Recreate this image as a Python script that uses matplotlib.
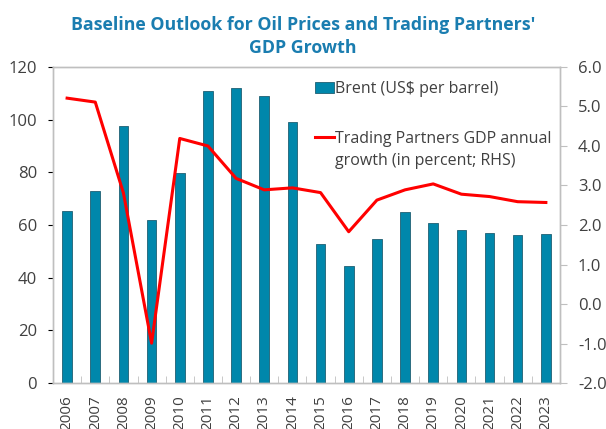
import matplotlib
matplotlib.use("Agg")
import matplotlib.pyplot as plt
import numpy as np

plt.rcParams['font.family'] = ['Open Sans', 'DejaVu Sans']

years = [str(y) for y in range(2006, 2024)]
brent = [65.4, 72.9, 97.7, 62.0, 79.7, 111.0, 111.9, 108.9, 99.0,
         52.7, 44.3, 54.6, 64.8, 60.9, 58.1, 56.8, 56.2, 56.6]
gdp_growth = [5.21, 5.11, 2.81, -0.99, 4.19, 4.0, 3.18, 2.89, 2.94,
              2.82, 1.83, 2.63, 2.89, 3.04, 2.78, 2.72, 2.59, 2.57]

bar_color = '#0087AB'
title_color = '#1A7DB0'
text_color = '#404040'
frame_color = '#BFBFBF'

fig = plt.figure(figsize=(6.06, 4.29), dpi=100)
ax = fig.add_axes([0.0875, 0.107, 0.8365, 0.737])
x = np.arange(len(years))

bars = ax.bar(x, brent, width=0.34, color=bar_color, edgecolor='#1F5F73',
              linewidth=0.6, label='Brent (US$ per barrel)', zorder=2)
ax.set_xlim(-0.5, len(years) - 0.5)
ax.set_ylim(0, 120)
ax.set_yticks(range(0, 121, 20))
ax.tick_params(axis='y', left=False, labelsize=12, labelcolor=text_color, pad=8)
ax.set_xticks(x)
ax.set_xticklabels(years, rotation=90, fontsize=11, color=text_color)
ax.tick_params(axis='x', bottom=False, pad=5)
ax.set_xticks(np.arange(0.5, len(years) - 0.5), minor=True)
ax.tick_params(axis='x', which='minor', direction='in', length=5,
               color=frame_color, bottom=True)
for s in ax.spines.values():
    s.set_color(frame_color)
    s.set_linewidth(1)

ax2 = ax.twinx()
line, = ax2.plot(x, gdp_growth, color='#FF0000', linewidth=2.2,
                 label='Trading Partners GDP annual', zorder=3)
ax2.set_ylim(-2, 6)
ax2.set_yticks(np.arange(-2, 6.1, 1))
ax2.set_yticklabels([f'{v:.1f}' for v in np.arange(-2, 6.1, 1)])
ax2.tick_params(axis='y', direction='out', length=5, color=frame_color,
                labelsize=12, labelcolor=text_color, pad=8)
for s in ax2.spines.values():
    s.set_color(frame_color)
    s.set_linewidth(1)

leg = ax2.legend([bars, line], [bars.get_label(), line.get_label()],
                 loc='upper left', bbox_to_anchor=(0.505, 0.975), frameon=False,
                 fontsize=11.5, labelcolor=text_color, handlelength=1.15,
                 handletextpad=0.1, labelspacing=2.1, borderaxespad=0)

# second line of the GDP legend label, placed under the first one
fig.canvas.draw()
bb = leg.get_texts()[1].get_window_extent()
x0, y0 = fig.transFigure.inverted().transform((bb.x0, bb.y0 - 22))
fig.text(x0, y0, 'growth (in percent; RHS)', fontsize=11.5, color=text_color,
         ha='left', va='bottom')

fig.suptitle("Baseline Outlook for Oil Prices and Trading Partners'\nGDP Growth",
             x=0.5, y=0.962, fontsize=12.8, fontweight='bold', color=title_color,
             linespacing=1.3)

fig.savefig('out.png', dpi=100)
